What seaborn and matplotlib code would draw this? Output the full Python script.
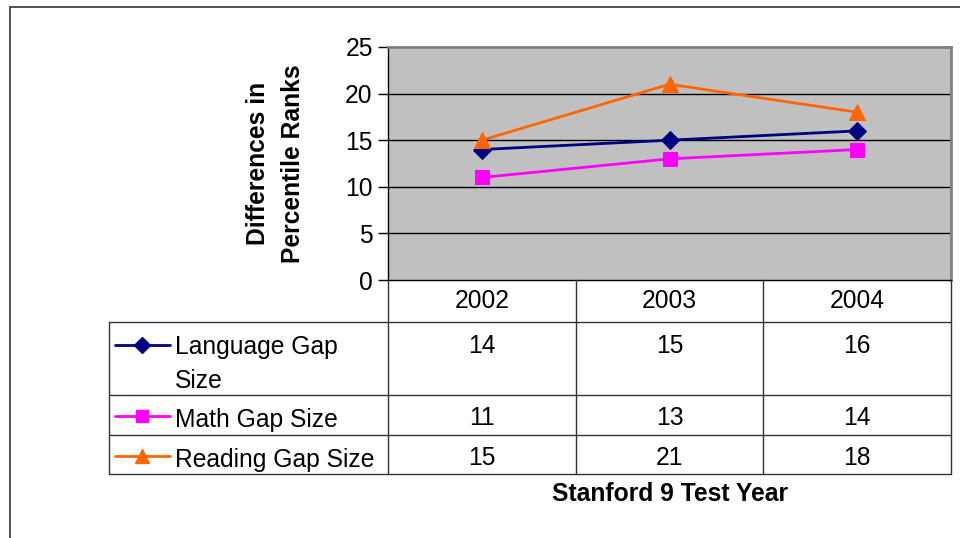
import pandas as pd
import seaborn as sns
import matplotlib.pyplot as plt
from matplotlib.lines import Line2D

years = ["2002", "2003", "2004"]
series_names = ["Language Gap Size", "Math Gap Size", "Reading Gap Size"]
table_labels = ["Language Gap\nSize", "Math Gap Size", "Reading Gap Size"]
language = [14, 15, 16]
math = [11, 13, 14]
reading = [15, 21, 18]
y_ticks = [0, 5, 10, 15, 20, 25]

colors = {"Language Gap Size": "#000080", "Math Gap Size": "#FF00FF", "Reading Gap Size": "#FF6600"}
markers = {"Language Gap Size": "D", "Math Gap Size": "s", "Reading Gap Size": "^"}
msizes = {"Language Gap Size": 9, "Math Gap Size": 10, "Reading Gap Size": 11}

df = pd.DataFrame({
    "Year": years * 3,
    "Gap": language + math + reading,
    "Series": [s for s in series_names for _ in years],
})

sns.set_theme(style="white")
plt.rcParams["font.family"] = ["Liberation Sans", "DejaVu Sans"]
plt.rcParams["text.color"] = "black"
FS = 17.7

W, H = 960, 538
fig = plt.figure(figsize=(9.6, 5.38), dpi=100)

# plot area in pixel layout
px_left, px_right, px_top, px_bottom = 388, 951, 47, 280
ax = fig.add_axes([px_left / W, 1 - px_bottom / H, (px_right - px_left) / W, (px_bottom - px_top) / H])
ax.set_facecolor("#C0C0C0")

for name in series_names:
    sub = df[df["Series"] == name]
    sns.lineplot(data=sub, x="Year", y="Gap", ax=ax, color=colors[name], marker=markers[name],
                 markersize=msizes[name], markeredgecolor=colors[name], linewidth=2, zorder=3)

ax.set_xlim(-0.5, len(years) - 0.5)
ax.set_ylim(0, 25)
ax.set_yticks(y_ticks)
ax.set_yticklabels([str(t) for t in y_ticks], fontsize=FS, color="black")
ax.set_xticks([])
ax.set_xlabel("")
ax.set_ylabel("Differences in\nPercentile Ranks", fontsize=FS, fontweight="bold", labelpad=29,
              linespacing=1.6, color="black")
ax.tick_params(axis="y", direction="out", length=7, width=1, color="black", pad=4, left=True)
for t in y_ticks[1:-1]:
    ax.axhline(t, color="black", linewidth=1, zorder=1)
for side in ["top", "right"]:
    ax.spines[side].set_color("#808080")
    ax.spines[side].set_linewidth(2)
ax.spines["left"].set_color("black")
ax.spines["left"].set_linewidth(1)
ax.spines["bottom"].set_color("black")
ax.spines["bottom"].set_linewidth(1)

# data table below the plot
tb_left, tb_bottom = 109, 474
row_edges = [280, 322, 395, 435, 474]
cat_w = (px_right - px_left) / len(years)
x0 = -0.5 - (px_left - tb_left) / cat_w
tax = fig.add_axes([tb_left / W, 1 - tb_bottom / H, (px_right - tb_left) / W, (tb_bottom - px_top) / H])
tax.set_xlim(x0, len(years) - 0.5)
tax.set_ylim(tb_bottom, px_top)
tax.axis("off")

lc = "#333333"
for y in row_edges[1:]:
    tax.plot([x0, len(years) - 0.5], [y, y], color=lc, lw=1, clip_on=False)
tax.plot([x0, x0], [row_edges[1], row_edges[-1]], color=lc, lw=1, clip_on=False)
for i in range(len(years) + 1):
    tax.plot([i - 0.5, i - 0.5], [row_edges[0], row_edges[-1]], color=lc, lw=1, clip_on=False)

for i, yr in enumerate(years):
    tax.text(i, (row_edges[0] + row_edges[1]) / 2, yr, ha="center", va="center", fontsize=FS)

values = [language, math, reading]
for r, (name, lab, vals) in enumerate(zip(series_names, table_labels, values)):
    top = row_edges[r + 1]
    off = 12 if r == 0 else 11
    for i, v in enumerate(vals):
        tax.text(i, top + off, str(v), ha="center", va="top", fontsize=FS)
    # legend key
    key_y = top + 23 if r == 0 else top + 21
    kx = x0 + 6 / cat_w
    tax.plot([kx, kx + 55 / cat_w], [key_y, key_y], color=colors[name], lw=2, clip_on=False)
    tax.plot([kx + 27 / cat_w], [key_y], marker=markers[name], color=colors[name],
             markersize=msizes[name] - 1, clip_on=False)
    tax.text(x0 + 66 / cat_w, top + 13, lab, ha="left", va="top", fontsize=FS, linespacing=1.5)

fig.text((px_left + px_right) / 2 / W, 1 - 494 / H, "Stanford 9 Test Year",
         ha="center", va="center", fontsize=FS, fontweight="bold")

# outer frame (top and left edges)
fig.add_artist(Line2D([10 / W, 1], [1 - 7 / H, 1 - 7 / H], color="#333333", lw=1.2))
fig.add_artist(Line2D([10 / W, 10 / W], [0, 1 - 7 / H], color="#333333", lw=1.2))

fig.savefig("out.png", dpi=100)
